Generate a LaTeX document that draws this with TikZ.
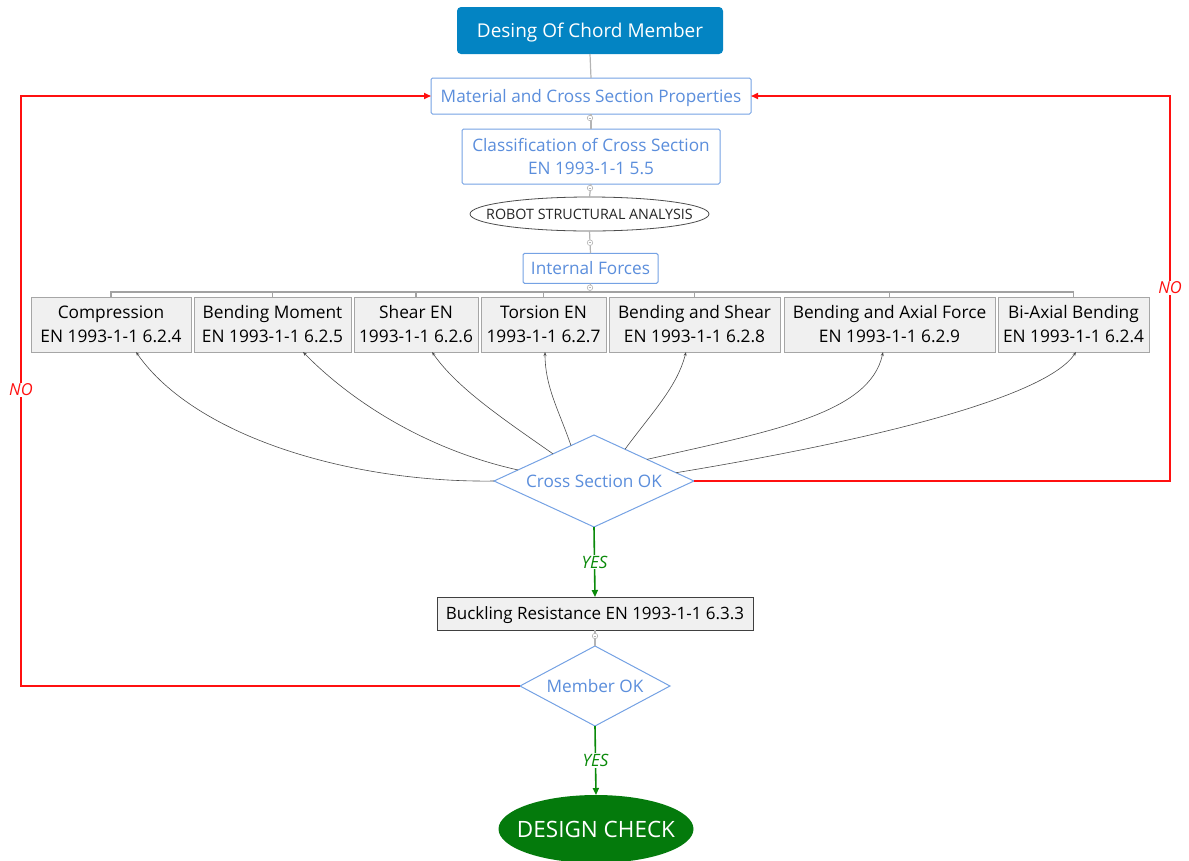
\documentclass[tikz,border=0pt]{standalone}
\usepackage{fontspec}
\setmainfont{Open Sans}
\usetikzlibrary{shapes.geometric,arrows.meta,calc}
\definecolor{titleblue}{HTML}{0384C3}
\definecolor{lblue}{HTML}{5B8EDC}
\definecolor{bblue}{HTML}{75A2E4}
\definecolor{gfill}{HTML}{F0F0F0}
\definecolor{gborder}{HTML}{A6A6A6}
\definecolor{conncol}{HTML}{B4B4B4}
\definecolor{nored}{HTML}{FF1010}
\definecolor{yesgreen}{HTML}{0A8A0A}
\definecolor{dgreen}{HTML}{047A0C}
\begin{document}
\begin{tikzpicture}[x=1pt,y=-1pt,
  every node/.style={inner sep=0pt,outer sep=0pt},
  titlebox/.style={rectangle,rounded corners=4pt,fill=titleblue,text=white,text depth=0pt,font=\fontsize{19}{23}\selectfont},
  bluebox/.style={rectangle,rounded corners=1.5pt,draw=bblue,line width=1pt,fill=white,text=lblue,font=\fontsize{17.2}{23.5}\selectfont,align=center},
  robotell/.style={ellipse,draw=black!70,line width=0.8pt,fill=white,font=\fontsize{14.3}{16}\selectfont,text=black!85},
  forcebox/.style={rectangle,draw=gborder,line width=0.8pt,fill=gfill,text=black,font=\fontsize{17.3}{24}\selectfont,align=center},
  decision/.style={diamond,draw=bblue,line width=1pt,fill=white,text=lblue,font=\fontsize{17.2}{20}\selectfont},
  buckbox/.style={rectangle,draw=black!75,line width=0.8pt,fill=gfill,text=black,text depth=0pt,font=\fontsize{17}{20}\selectfont},
  endell/.style={ellipse,fill=dgreen,text=white,font=\fontsize{22.5}{26}\selectfont},
  conn/.style={draw=conncol,line width=1.2pt},
  busline/.style={draw=conncol!90!black,line width=1.5pt},
  marker/.style={circle,draw=conncol,fill=white,line width=0.6pt,minimum size=5.5pt},
  curvearrow/.style={draw=black!70,line width=0.6pt,-{Stealth[length=4pt,width=3pt]}},
  noline/.style={draw=nored,line width=1.6pt,-{Triangle[length=7pt,width=6pt]}},
  yesline/.style={draw=yesgreen,line width=1.6pt,-{Triangle[length=7pt,width=6pt]}},
  nolabel/.style={fill=white,text=nored,font=\itshape\fontsize{16.5}{18}\selectfont,inner sep=1pt},
  yeslabel/.style={fill=white,text=yesgreen,font=\itshape\fontsize{17}{18}\selectfont,inner sep=1pt}
]
\useasboundingbox (0,0) rectangle (1189,860);

% main column
\node[titlebox,minimum width=266pt,minimum height=47pt] (title) at (590,30.5) {Desing Of Chord Member};
\node[bluebox,text depth=0pt,minimum width=320pt,minimum height=36pt] (mat) at (591,96) {Material and Cross Section Properties};
\node[bluebox,minimum width=258pt,minimum height=55pt] (cls) at (591,156.5) {Classification of Cross Section\\EN 1993-1-1 5.5};
\node[robotell,minimum width=239pt,minimum height=34pt] (robot) at (589.5,214) {\makebox[0pt]{ROBOT STRUCTURAL ANALYSIS}};
\node[bluebox,minimum width=135pt,minimum height=30pt] (intf) at (590.5,268.3) {Internal Forces};

% force boxes
\node[forcebox,minimum width=160pt,minimum height=55pt] (comp) at (111,324.5) {Compression\\EN 1993-1-1 6.2.4};
\node[forcebox,minimum width=157pt,minimum height=55pt] (bm) at (272.5,324.5) {Bending Moment\\EN 1993-1-1 6.2.5};
\node[forcebox,minimum width=124pt,minimum height=55pt] (shear) at (416,324.5) {Shear EN\\1993-1-1 6.2.6};
\node[forcebox,minimum width=125pt,minimum height=55pt] (tor) at (543.5,324.5) {Torsion EN\\1993-1-1 6.2.7};
\node[forcebox,minimum width=171pt,minimum height=55pt] (bs) at (694.5,324.5) {Bending and Shear\\EN 1993-1-1 6.2.8};
\node[forcebox,minimum width=211pt,minimum height=55pt] (ba) at (889.5,324.5) {Bending and Axial Force\\EN 1993-1-1 6.2.9};
\node[forcebox,minimum width=151pt,minimum height=55pt] (bi) at (1073.5,324.5) {Bi-Axial Bending\\EN 1993-1-1 6.2.4};

% decisions and end
\node[decision,aspect=2.17,minimum width=200pt,minimum height=92pt] (cs) at (594,481) {Cross Section OK};
\node[buckbox,minimum width=316pt,minimum height=33pt] (buck) at (595,613.5) {Buckling Resistance EN 1993-1-1 6.3.3};
\node[decision,aspect=1.875,minimum width=150pt,minimum height=80pt] (mok) at (595,686) {Member OK};
\node[endell,minimum width=195pt,minimum height=68pt] (dc) at (596,829) {\makebox[0pt]{DESIGN CHECK}};

% grey tree connectors
\coordinate (bus) at (590,292);
\draw[conn] (title.south) -- (mat.north);
\draw[conn] (mat.south) -- (cls.north);
\draw[conn] (cls.south) -- (robot.north);
\draw[conn] (robot.south) -- (intf.north);
\draw[conn] (intf.south) -- (bus);
\draw[busline] (comp.north) -- (comp.north |- bus) -- (bi.north |- bus) -- (bi.north);
\foreach \b in {bm,shear,tor,bs,ba}{
  \draw[busline] (\b.north |- bus) -- (\b.north);
}
\draw[conn] (buck.south) -- (mok.north);
\foreach \p/\n in {{590,118}/m1,{590,188}/m2,{590,242.7}/m3,{590,287.7}/m4,{595,636}/m5}{
  \node[marker] (\n) at (\p) {};
  \draw[draw=conncol,line width=0.5pt] ($(\n)+(-1.4,0)$) -- ($(\n)+(1.4,0)$);
}

% curved arrows from Cross Section OK
\coordinate (s2) at ($(cs.west)!0.24!(cs.north)$);
\coordinate (s3) at ($(cs.west)!0.59!(cs.north)$);
\coordinate (s4) at ($(cs.west)!0.77!(cs.north)$);
\coordinate (s5) at ($(cs.north)!0.31!(cs.east)$);
\coordinate (s6) at ($(cs.north)!0.53!(cs.east)$);
\coordinate (s7) at ($(cs.north)!0.82!(cs.east)$);
\coordinate (e1) at (136,352);
\coordinate (e2) at (303,352);
\coordinate (e3) at (432,352);
\coordinate (e4) at (545,352);
\coordinate (e5) at (686,352);
\coordinate (e6) at (883,352);
\coordinate (e7) at (1076,352);
\draw[curvearrow] (cs.west) .. controls +(-140,2) and +(60,86) .. (e1);
\draw[curvearrow] (s2) .. controls +(-90,-20) and +(50,51) .. (e2);
\draw[curvearrow] (s3) .. controls +(-50,-35) and +(25,36) .. (e3);
\draw[curvearrow] (s4) .. controls +(-12,-35) and +(0,35) .. (e4);
\draw[curvearrow] (s5) .. controls +(28,-38) and +(-9,35) .. (e5);
\draw[curvearrow] (s6) .. controls +(123,-28) and +(-13,62) .. (e6);
\draw[curvearrow] (s7) .. controls +(200,-33) and +(-30,45) .. (e7);

% NO loops
\coordinate (rc) at (1170,96);
\coordinate (lc) at (21,96);
\draw[noline] (cs.east) -| (rc) -- (mat.east);
\draw[noline] (mok.west) -| (lc) -- (mat.west);
\node[nolabel] (no1) at (1170,288) {NO};
\node[nolabel] (no2) at (21,390) {NO};

% YES arrows
\draw[yesline] (cs.south) -- node[yeslabel] (yes1) {YES} (buck.north);
\draw[yesline] (mok.south) -- node[yeslabel] (yes2) {YES} (dc.north);
\end{tikzpicture}
\end{document}
